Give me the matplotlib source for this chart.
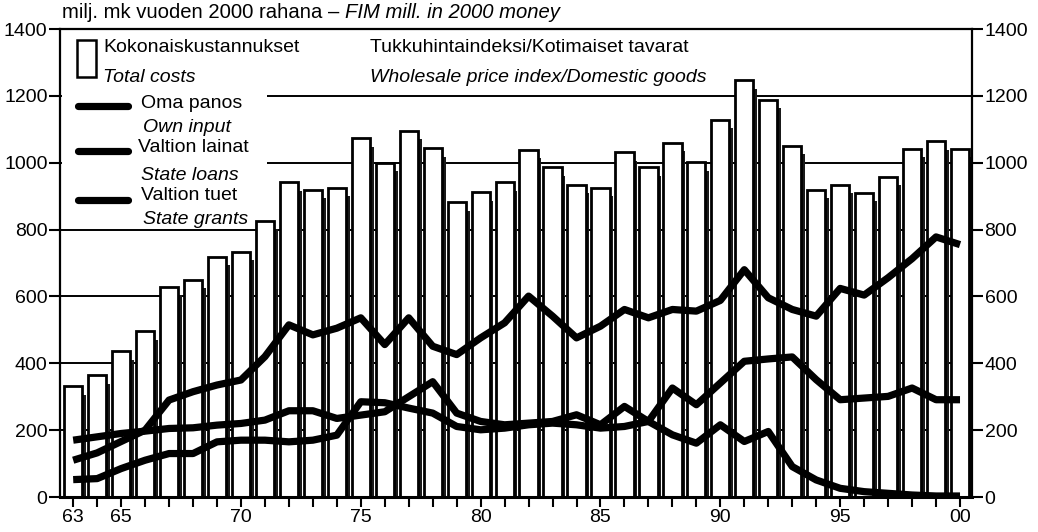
import matplotlib
matplotlib.use("Agg")
import matplotlib.pyplot as plt
from matplotlib.patches import Rectangle
from matplotlib.lines import Line2D

plt.rcParams['font.family'] = ['Liberation Sans', 'DejaVu Sans']

years = list(range(1963, 2001))
total_costs = [331, 364, 436, 496, 628, 649, 719, 734,
               826, 941, 919, 924, 1073, 1000, 1096, 1043, 881, 911,
               941, 1038, 986, 934, 924, 1031, 986, 1059, 1001, 1129,
               1246, 1188, 1051, 919, 933, 909, 958, 1041, 1064, 1041]
own_input = [110, 132, 166, 200, 290, 315, 335, 350,
             420, 515, 485, 505, 536, 456, 536, 451, 426, 476,
             521, 601, 541, 476, 511, 561, 536, 561, 556, 588,
             680, 596, 561, 541, 624, 604, 656, 713, 778, 755]
state_grants = [170, 180, 190, 197, 205, 207, 215, 220,
                230, 258, 258, 235, 245, 255, 300, 345, 251, 226,
                216, 221, 226, 246, 216, 271, 226, 186, 161, 216,
                166, 196, 91, 51, 26, 16, 11, 6, 3, 3]
state_loans = [52, 55, 85, 110, 130, 130, 165, 170,
               170, 165, 170, 185, 285, 282, 266, 251, 211, 201,
               206, 216, 221, 216, 206, 211, 226, 326, 276, 341,
               406, 413, 419, 351, 291, 296, 301, 326, 291, 291]
x_tick_years = [1963, 1965, 1970, 1975, 1980, 1985, 1990, 1995, 2000]
x_tick_labels = ['63', '65', '70', '75', '80', '85', '90', '95', '00']
y_ticks = [0, 200, 400, 600, 800, 1000, 1200, 1400]

W, H = 1038, 532
fig = plt.figure(figsize=(W / 100, H / 100), dpi=100)

def fx(px):
    return px / W

def fy(py):
    return 1 - py / H

ax_l, ax_r, ax_t, ax_b = 60, 972, 29, 497
ax = fig.add_axes([fx(ax_l), fy(ax_b), fx(ax_r) - fx(ax_l), fy(ax_t) - fy(ax_b)])
ax.set_xlim(1962.45, 2000.5)
ax.set_ylim(0, 1400)

# grid
for v in y_ticks[1:-1]:
    ax.axhline(v, color='black', lw=1.4, zorder=0.5)

# white area behind legend
ax.add_patch(Rectangle((fx(62), fy(210)), fx(267) - fx(62), fy(31) - fy(210),
                       transform=fig.transFigure, facecolor='white',
                       edgecolor='none', zorder=0.8))

# shadows + bars
shadow_h = [v - 25 for v in total_costs]
ax.bar([y + 0.47 for y in years], shadow_h, width=0.13, color='#1a1a1a',
       edgecolor='none', zorder=1)
ax.bar(years, total_costs, width=0.76, color='white', edgecolor='black',
       linewidth=2.0, zorder=1.5)

for series in (own_input, state_grants, state_loans):
    ax.plot(years, series, color='black', lw=5.2, solid_joinstyle='round',
            solid_capstyle='butt', zorder=3)

# axes styling
for s in ('left', 'right', 'top'):
    ax.spines[s].set_linewidth(1.6)
ax.spines['bottom'].set_linewidth(2.2)

ax.set_yticks(y_ticks)
ax.set_yticklabels([str(v) for v in y_ticks])
ax.tick_params(axis='y', which='both', direction='out', length=8, width=1.5,
               labelsize=14, pad=1, left=True, right=True,
               labelleft=True, labelright=True)
ax.set_xticks(years, minor=True)
ax.set_xticks(x_tick_years)
ax.set_xticklabels(x_tick_labels)
ax.tick_params(axis='x', which='both', direction='out', length=7, width=1.5,
               labelsize=14, pad=2)
ax.tick_params(axis='x', which='minor', labelbottom=False)

# title
t1 = fig.text(fx(62), fy(13), 'milj. mk vuoden 2000 rahana \u2013 ', fontsize=14.6,
              ha='left', va='center')
fig.canvas.draw()
bb = t1.get_window_extent()
fig.text(bb.x1 / W, fy(13), 'FIM mill. in 2000 money', fontsize=14.6,
         style='italic', ha='left', va='center')

# legend
fs = 14
fig.add_artist(Rectangle((fx(77), fy(77)), fx(96) - fx(77), fy(40) - fy(77),
                         transform=fig.transFigure, facecolor='white',
                         edgecolor='black', lw=1.8))
fig.text(fx(103), fy(48), 'Kokonaiskustannukset', fontsize=fs, ha='left', va='center')
fig.text(fx(103), fy(77), 'Total costs', fontsize=fs, style='italic', ha='left', va='center')
for ly in (106, 151, 200):
    fig.add_artist(Line2D([fx(78), fx(128)], [fy(ly), fy(ly)], color='black', lw=5.2,
                          solid_capstyle='round', transform=fig.transFigure))
fig.text(fx(141), fy(103), 'Oma panos', fontsize=fs, ha='left', va='center')
fig.text(fx(143), fy(128), 'Own input', fontsize=fs, style='italic', ha='left', va='center')
fig.text(fx(138), fy(148), 'Valtion lainat', fontsize=fs, ha='left', va='center')
fig.text(fx(141), fy(175), 'State loans', fontsize=fs, style='italic', ha='left', va='center')
fig.text(fx(141), fy(195), 'Valtion tuet', fontsize=fs, ha='left', va='center')
fig.text(fx(143), fy(220), 'State grants', fontsize=fs, style='italic', ha='left', va='center')

fig.text(fx(370), fy(48), 'Tukkuhintaindeksi/Kotimaiset tavarat', fontsize=fs,
         ha='left', va='center')
fig.text(fx(370), fy(78), 'Wholesale price index/Domestic goods', fontsize=fs,
         style='italic', ha='left', va='center')

fig.savefig('out.png', dpi=100)
